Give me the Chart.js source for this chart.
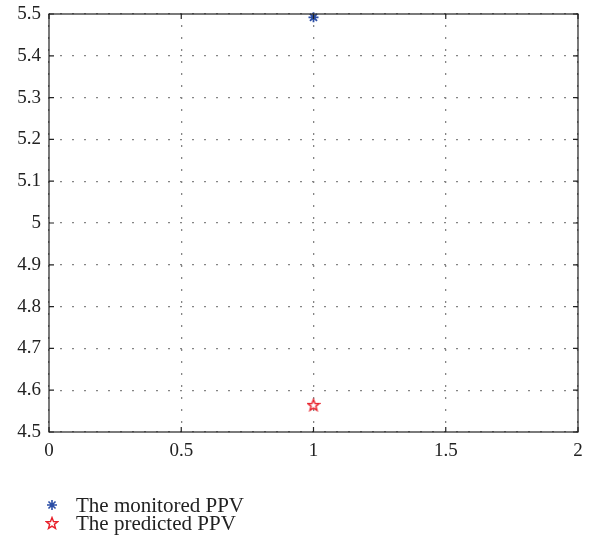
<!DOCTYPE html>
<html>
<head>
<meta charset="utf-8">
<script src="https://cdn.jsdelivr.net/npm/chart.js@4.4.0/dist/chart.umd.min.js"></script>
<style>
  body { margin: 0; background: #fff; }
  #wrap { position: relative; width: 590px; height: 542px; }
  #c { position: absolute; left: 0; top: 0; }
  #legend { position: absolute; left: 42px; top: 496px; font-family: "Liberation Serif", serif; font-size: 21px; color: #222; }
  .row { display: flex; align-items: center; height: 18px; }
  .row canvas { width: 20px; height: 18px; margin-right: 14px; }
</style>
</head>
<body>
<div id="wrap">
  <canvas id="c" width="590" height="470"></canvas>
  <div id="legend"></div>
</div>
<script>
// values
const seriesNames = ["The monitored PPV", "The predicted PPV"];
const monitoredX = [1];
const monitoredY = [5.492];
const predictedX = [1];
const predictedY = [4.565];
const xTicks = [0, 0.5, 1, 1.5, 2];
const yMin = 4.5, yMax = 5.5;

const blue = "#2b4ea6";
const red = "#e8202a";

// pentagram outline for the predicted marker
function starImage(size, color) {
  const cv = document.createElement("canvas");
  cv.width = size; cv.height = size;
  const g = cv.getContext("2d");
  const cx = size / 2, cy = size / 2 + 0.6, R = size / 2 - 1, r = R * 0.42;
  g.beginPath();
  for (let i = 0; i < 10; i++) {
    const rad = i % 2 ? r : R;
    const a = -Math.PI / 2 + i * Math.PI / 5;
    const px = cx + rad * Math.cos(a), py = cy + rad * Math.sin(a);
    i ? g.lineTo(px, py) : g.moveTo(px, py);
  }
  g.closePath();
  g.strokeStyle = color;
  g.lineWidth = 1.4;
  g.stroke();
  return cv;
}
const redStar = starImage(14, red);

const frame = {
  id: "frame",
  afterDraw(chart) {
    const { ctx, chartArea: a, scales } = chart;
    ctx.save();
    ctx.strokeStyle = "#222";
    ctx.lineWidth = 1.2;
    ctx.strokeRect(a.left, a.top, a.right - a.left, a.bottom - a.top);
    ctx.beginPath();
    const L = 5;
    scales.x.ticks.forEach(t => {
      const px = scales.x.getPixelForValue(t.value);
      ctx.moveTo(px, a.bottom); ctx.lineTo(px, a.bottom - L);
      ctx.moveTo(px, a.top); ctx.lineTo(px, a.top + L);
    });
    scales.y.ticks.forEach(t => {
      const py = scales.y.getPixelForValue(t.value);
      ctx.moveTo(a.left, py); ctx.lineTo(a.left + L, py);
      ctx.moveTo(a.right, py); ctx.lineTo(a.right - L, py);
    });
    ctx.stroke();
    ctx.restore();
  }
};

const font = { family: "'Liberation Serif', serif", size: 19 };
const fmt = v => String(+(+v).toFixed(2));
const gridOpts = { color: "#858585", lineWidth: 1.3, drawTicks: false };
const dotted = { display: false, dash: [2, 10], dashOffset: 1 };

const chart = new Chart(document.getElementById("c"), {
  type: "scatter",
  data: {
    datasets: [
      {
        label: seriesNames[0],
        data: monitoredX.map((x, i) => ({ x, y: monitoredY[i] })),
        pointStyle: "star",
        radius: 5,
        borderColor: blue,
        backgroundColor: blue,
        borderWidth: 1.8
      },
      {
        label: seriesNames[1],
        data: predictedX.map((x, i) => ({ x, y: predictedY[i] })),
        pointStyle: redStar,
        radius: 7,
        borderColor: red,
        backgroundColor: red
      }
    ]
  },
  options: {
    responsive: false,
    animation: false,
    clip: false,
    layout: { padding: { top: 14, right: 12, left: 0, bottom: 0 } },
    plugins: { legend: { display: false }, tooltip: { enabled: false } },
    scales: {
      x: {
        type: "linear",
        min: 0, max: 2,
        afterBuildTicks: s => { s.ticks = xTicks.map(v => ({ value: v })); },
        afterFit: s => { s.height = 38; s.paddingLeft = 0; s.paddingRight = 0; },
        grid: gridOpts,
        border: dotted,
        ticks: { color: "#222", font, padding: 8, callback: fmt }
      },
      y: {
        min: yMin, max: yMax,
        ticks: { stepSize: 0.1, color: "#222", font, padding: 8, callback: fmt },
        afterFit: s => { s.width = 49; s.paddingTop = 0; s.paddingBottom = 0; },
        grid: gridOpts,
        border: dotted
      }
    }
  },
  plugins: [frame]
});

// legend below the plot, one entry per row
const legend = document.getElementById("legend");
chart.data.datasets.forEach(ds => {
  const row = document.createElement("div");
  row.className = "row";
  const mk = document.createElement("canvas");
  mk.width = 20; mk.height = 18;
  const g = mk.getContext("2d");
  g.strokeStyle = ds.borderColor; g.fillStyle = ds.backgroundColor; g.lineWidth = 1.6;
  const isStar = ds.pointStyle === "star";
  Chart.helpers.drawPoint(g, { pointStyle: ds.pointStyle, radius: isStar ? 5 : 7, rotation: 0, borderWidth: 1.6 }, 10, 9);
  const span = document.createElement("span");
  span.textContent = ds.label;
  row.appendChild(mk);
  row.appendChild(span);
  legend.appendChild(row);
});
</script>
</body>
</html>
